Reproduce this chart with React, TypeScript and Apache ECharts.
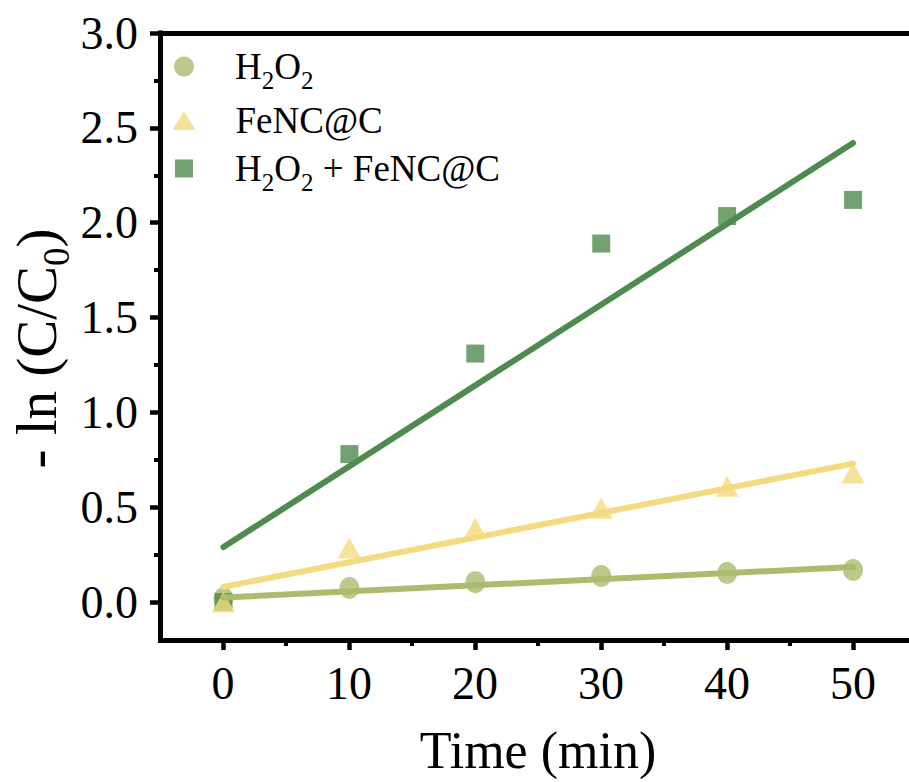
import { useEffect, useRef } from "react";
import * as echarts from "echarts";

// Reaction time (min)
const timeMin = [0, 10, 20, 30, 40, 50];

// -ln(C/C0) for each system
const h2o2Values = [0.02, 0.074, 0.105, 0.137, 0.153, 0.169];
const fencValues = [0, 0.285, 0.39, 0.495, 0.61, 0.68];
const comboValues = [0, 0.78, 1.31, 1.89, 2.035, 2.12];

// Linear fit lines, evaluated at the first and last time points
const fitTime = [0, 50];
const h2o2Fit = [0.024, 0.185];
const fencFit = [0.08, 0.73];
const comboFit = [0.29, 2.42];

const seriesNames = ["H2O2", "FeNC@C", "H2O2 + FeNC@C"];
const legendLabels: Record<string, string> = {
  "H2O2": "{m|H}{s|2}{m|O}{s|2}",
  "FeNC@C": "{m|FeNC@C}",
  "H2O2 + FeNC@C": "{m|H}{s|2}{m|O}{s|2}{m| + FeNC@C}",
};

const OLIVE = "#abbc6e";
const YELLOW = "#f5db80";
const GREEN = "#4f8b4f";
const FONT = "'Liberation Serif', 'Times New Roman', serif";

const frameLine = {
  show: true,
  onZero: false,
  lineStyle: { color: "#000", width: 5, cap: "square" as const },
};

const pairs = (xs: number[], ys: number[]) => xs.map((x, i) => [x, ys[i]]);

const LEGEND_LINE = 52;

function legendFor(name: string, rowCenter: number, w: number, h: number, pad: number) {
  return {
    data: [name],
    left: 184 - w / 2,
    top: rowCenter - LEGEND_LINE / 2 + 7,
    padding: 0,
    itemWidth: w,
    itemHeight: h,
    selectedMode: false,
    formatter: (n: string) => legendLabels[n],
    textStyle: {
      color: "#000",
      padding: [0, 0, 0, pad],
      rich: {
        m: {
          fontSize: 37,
          lineHeight: LEGEND_LINE,
          fontFamily: FONT,
          color: "#000",
          verticalAlign: "middle",
        },
        s: {
          fontSize: 25,
          lineHeight: 25,
          fontFamily: FONT,
          color: "#000",
          verticalAlign: "bottom",
        },
      },
    },
  };
}

export default function App() {
  const ref = useRef<HTMLDivElement>(null);

  useEffect(() => {
    const chart = echarts.init(ref.current!, null, { renderer: "svg" });

    const hidden = { show: false };

    const option = {
      animation: false,
      backgroundColor: "#fff",
      grid: [
        // data area (frame)
        { left: 160, top: 33, width: 756, height: 607 },
        // tick area: 0..50 min, 0..3.0
        { left: 223, top: 33, width: 630, height: 569 },
      ],
      legend: [
        legendFor(seriesNames[0], 67, 20, 20, 36),
        legendFor(seriesNames[1], 121, 23, 19, 35),
        legendFor(seriesNames[2], 169, 18, 18, 37),
      ],
      xAxis: [
        {
          gridIndex: 0,
          type: "value",
          min: -5,
          max: 55,
          position: "bottom",
          axisLine: frameLine,
          axisTick: hidden,
          axisLabel: hidden,
          splitLine: hidden,
        },
        {
          gridIndex: 0,
          type: "value",
          min: -5,
          max: 55,
          position: "top",
          axisLine: frameLine,
          axisTick: hidden,
          axisLabel: hidden,
          splitLine: hidden,
        },
        {
          gridIndex: 1,
          type: "value",
          min: 0,
          max: 50,
          interval: 10,
          position: "bottom",
          offset: 38,
          axisLine: { show: false, onZero: false },
          axisTick: { show: true, length: 10, lineStyle: { color: "#000", width: 4.5 } },
          minorTick: { show: true, splitNumber: 2, length: 6, lineStyle: { color: "#000", width: 4 } },
          splitLine: hidden,
          minorSplitLine: hidden,
          axisLabel: {
            margin: 20,
            fontSize: 46,
            fontFamily: FONT,
            color: "#000",
          },
          name: "Time (min)",
          nameLocation: "middle",
          nameGap: 84,
          nameTextStyle: { fontSize: 52, fontFamily: FONT, color: "#000" },
        },
      ],
      yAxis: [
        {
          gridIndex: 0,
          type: "value",
          min: -0.2,
          max: 3.0,
          position: "left",
          axisLine: frameLine,
          axisTick: hidden,
          axisLabel: hidden,
          splitLine: hidden,
          name: "{m|- ln (C/C}{s|0}{m|)}{g| }",
          nameLocation: "middle",
          nameGap: 86,
          nameTextStyle: {
            rich: {
              m: {
                fontSize: 57,
                lineHeight: 76,
                fontFamily: FONT,
                color: "#000",
                verticalAlign: "middle",
              },
              s: {
                fontSize: 37,
                lineHeight: 37,
                fontFamily: FONT,
                color: "#000",
                verticalAlign: "bottom",
              },
              g: {
                width: 24,
                fontSize: 10,
                lineHeight: 10,
              },
            },
          },
        },
        {
          gridIndex: 1,
          type: "value",
          min: 0,
          max: 3,
          interval: 0.5,
          position: "left",
          offset: 63,
          axisLine: { show: false, onZero: false },
          axisTick: { show: true, length: 10, lineStyle: { color: "#000", width: 4.5 } },
          minorTick: { show: true, splitNumber: 2, length: 6, lineStyle: { color: "#000", width: 4 } },
          splitLine: hidden,
          minorSplitLine: hidden,
          axisLabel: {
            margin: 22,
            fontSize: 46,
            fontFamily: FONT,
            color: "#000",
            formatter: (v: number) => v.toFixed(1),
          },
        },
      ],
      series: [
        {
          name: seriesNames[0],
          type: "scatter",
          xAxisIndex: 0,
          yAxisIndex: 0,
          symbol: "circle",
          symbolSize: [20, 22],
          itemStyle: { color: OLIVE },
          data: pairs(timeMin, h2o2Values),
          z: 2,
        },
        {
          name: seriesNames[2],
          type: "scatter",
          xAxisIndex: 0,
          yAxisIndex: 0,
          symbol: "rect",
          symbolSize: 18,
          itemStyle: { color: GREEN },
          data: pairs(timeMin, comboValues),
          z: 3,
        },
        {
          name: seriesNames[1],
          type: "scatter",
          xAxisIndex: 0,
          yAxisIndex: 0,
          symbol: "triangle",
          symbolSize: [23, 21],
          itemStyle: { color: YELLOW },
          data: pairs(timeMin, fencValues),
          z: 4,
        },
        ...[
          { fit: comboFit, color: GREEN },
          { fit: fencFit, color: YELLOW },
          { fit: h2o2Fit, color: OLIVE },
        ].map((f, i) => ({
          name: "fit-" + i,
          type: "line",
          xAxisIndex: 0,
          yAxisIndex: 0,
          symbol: "none",
          silent: true,
          lineStyle: { color: f.color, width: 6, cap: "round" },
          data: pairs(fitTime, f.fit),
          z: 5,
        })),
      ],
    };

    chart.setOption(option as any);
    return () => chart.dispose();
  }, []);

  // The chart box is a little wider than the window so the frame runs off its right edge.
  return (
    <div
      ref={ref}
      style={{ position: "fixed", left: 0, top: 0, width: 930, height: 782, background: "#fff" }}
    />
  );
}
